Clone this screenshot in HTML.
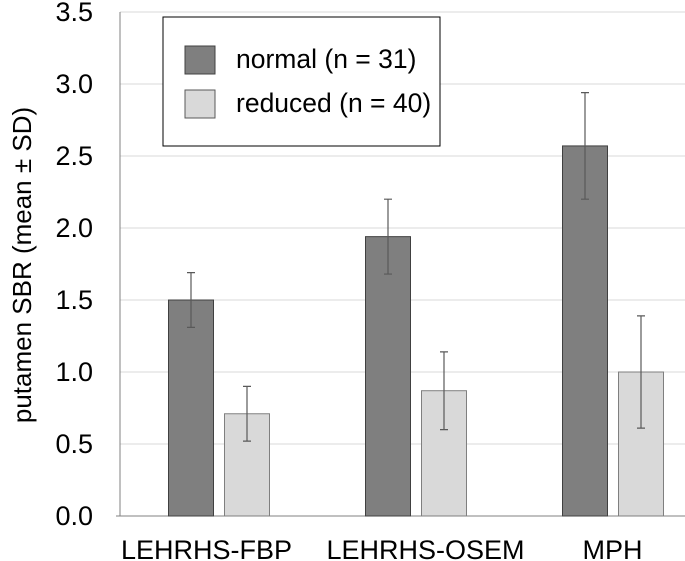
<!DOCTYPE html>
<html><head><meta charset="utf-8"><style>
body{margin:0;background:#fff}
svg{display:block;font-family:"Liberation Sans",Arial,sans-serif}
</style></head><body>
<svg id="chart" width="685" height="561">
<g id="grid"></g>
<g id="yticks"></g>
<g id="bars"></g>
<g id="xlabels"></g>
<text transform="translate(31,265) rotate(-90)" text-anchor="middle" font-size="26" fill="#000">putamen SBR (mean ± SD)</text>
<g>
<rect x="163" y="17" width="277" height="129" fill="#fff" stroke="#000" stroke-width="1"/>
<g>
<rect x="185" y="46" width="30" height="28" fill="#7f7f7f" stroke="#404040"/>
<text x="236" y="68" font-size="26.5">normal (n = 31)</text></g>
<g>
<rect x="185" y="90" width="30" height="28" fill="#d9d9d9" stroke="#595959"/>
<text x="236" y="112" font-size="26.5">reduced (n = 40)</text></g>
</g>
</svg>
<script>
const categories=["LEHRHS-FBP","LEHRHS-OSEM","MPH"];
const normalMean=[1.50,1.94,2.57];
const normalSD=[0.19,0.26,0.37];
const reducedMean=[0.71,0.87,1.00];
const reducedSD=[0.19,0.27,0.39];
const yTicks=[0,0.5,1,1.5,2,2.5,3,3.5];
const NS="http://www.w3.org/2000/svg";
const x0=120,bandW=197,y0=516,pxPerUnit=144;
const labelShift=[-12,10,0];
const y=v=>y0-v*pxPerUnit;
function mk(t,a,p){const e=document.createElementNS(NS,t);for(const k in a)e.setAttribute(k,a[k]);p.appendChild(e);return e;}
const grid=document.getElementById('grid'),yt=document.getElementById('yticks'),bars=document.getElementById('bars'),xl=document.getElementById('xlabels');
yTicks.forEach(v=>{
 const l=mk('line',{x1:v===0?116:x0,x2:685,y1:y(v),y2:y(v),stroke:v===0?'#808080':'#d9d9d9','stroke-width':1},grid);
 
 
 const t=mk('text',{x:93,y:y(v)+9,'text-anchor':'end','font-size':27},yt);
 t.textContent=v.toFixed(1);
 
 
});
const ax=mk('line',{x1:x0,x2:x0,y1:y(3.5),y2:y0,stroke:'#808080'},grid);


function bar(cx,v,sd,fill,stroke,name){
 const r=mk('rect',{x:cx-22.5,y:y(v),width:45,height:y0-y(v),fill:fill,stroke:stroke},bars);
 
 
 const e=mk('path',{d:`M${cx},${y(v+sd)}V${y(v-sd)}M${cx-4},${y(v+sd)}H${cx+4}M${cx-4},${y(v-sd)}H${cx+4}`,stroke:'#595959','stroke-width':1.2,fill:'none'},bars);
 
 
}
categories.forEach((c,i)=>{
 const cx=x0+bandW*(i+0.5);
 bar(cx-27.5,normalMean[i],normalSD[i],'#7f7f7f','#404040','bar-normal-'+i);
 bar(cx+28.5,reducedMean[i],reducedSD[i],'#d9d9d9','#7f7f7f','bar-reduced-'+i);
 const t=mk('text',{x:cx+labelShift[i],y:559,'text-anchor':'middle','font-size':27},xl);
 t.textContent=c;
 
 
});
</script>
</body></html>
